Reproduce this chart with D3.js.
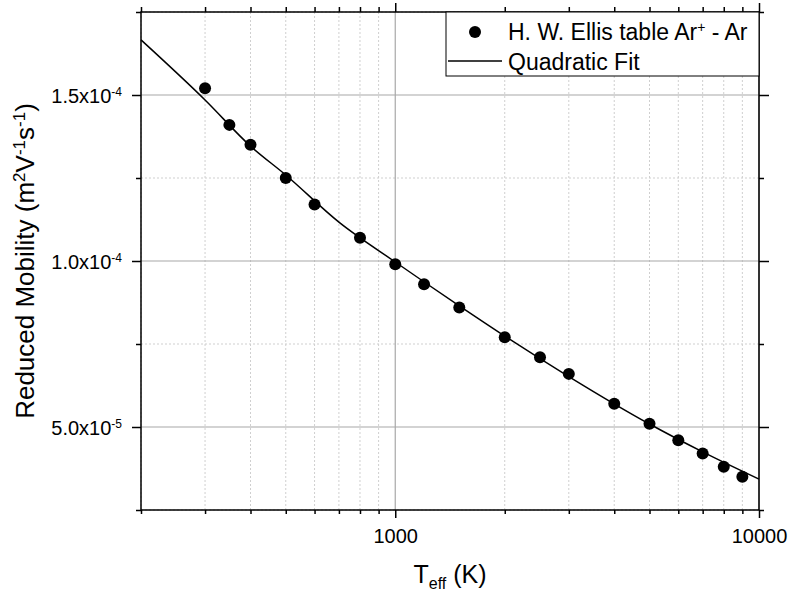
<!DOCTYPE html>
<html>
<head>
<meta charset="utf-8">
<script src="https://cdnjs.cloudflare.com/ajax/libs/d3/7.8.5/d3.min.js"></script>
<style>
    body { margin: 0; background: #fff; }
    svg { display: block; font-family: "Liberation Sans", Arial, sans-serif; }
</style>
</head>
<body>
<div id="chart"></div>
<script>
// H. W. Ellis table, Ar+ in Ar
var temperatures = [300, 350, 400, 500, 600, 800, 1000, 1200, 1500, 2000, 2500, 3000, 4000, 5000, 6000, 7000, 8000, 9000];
var mobilities = [1.52e-4, 1.41e-4, 1.35e-4, 1.25e-4, 1.17e-4, 1.07e-4, 9.9e-5, 9.3e-5, 8.6e-5, 7.7e-5, 7.1e-5, 6.6e-5, 5.7e-5, 5.1e-5, 4.6e-5, 4.2e-5, 3.8e-5, 3.5e-5];

// quadratic fit curve
var fitTemperatures = [200, 300, 400, 500, 700, 1000, 1500, 2000, 3000, 5000, 7000, 10000];
var fitMobilities = [1.666e-4, 1.485e-4, 1.346e-4, 1.259e-4, 1.117e-4, 9.97e-5, 8.65e-5, 7.74e-5, 6.52e-5, 5.09e-5, 4.25e-5, 3.43e-5];

var xMajorTicks = [1000, 10000];
var xMinorTicks = [200, 300, 400, 500, 600, 700, 800, 900, 2000, 3000, 4000, 5000, 6000, 7000, 8000, 9000];
var yMajorTicks = [5e-5, 1e-4, 1.5e-4];
var yMinorTicks = [2.5e-5, 7.5e-5, 1.25e-4, 1.75e-4];
var yTickLabels = [['5.0', '-5'], ['1.0', '-4'], ['1.5', '-4']];

var seriesLabels = ['H. W. Ellis table Ar', 'Quadratic Fit'];

var width = 791, height = 596;
var margin = {top: 12, right: 32, bottom: 86, left: 141};
var innerWidth = width - margin.left - margin.right;
var innerHeight = height - margin.top - margin.bottom;

var svg = d3.select('#chart').append('svg')
    .attr('width', width)
    .attr('height', height);
var g = svg.append('g')
    .attr('transform', 'translate(' + margin.left + ',' + margin.top + ')');

var x = d3.scaleLog().domain([200, 10000]).range([0, innerWidth]);
var y = d3.scaleLinear().domain([2.5e-5, 1.75e-4]).range([innerHeight, 0]);

// grid
function gridLines(values, isX, cls) {
    var sel = g.append('g').attr('class', cls).selectAll('line').data(values).enter().append('line');
    if (isX) {
        sel.attr('x1', function(d) { return x(d); }).attr('x2', function(d) { return x(d); })
            .attr('y1', 0).attr('y2', innerHeight);
    } else {
        sel.attr('y1', function(d) { return y(d); }).attr('y2', function(d) { return y(d); })
            .attr('x1', 0).attr('x2', innerWidth);
    }
    return sel;
}
gridLines(xMinorTicks, true, 'grid-minor').attr('stroke', '#cfcfcf').attr('stroke-dasharray', '2,2');
gridLines(yMinorTicks, false, 'grid-minor').attr('stroke', '#cfcfcf').attr('stroke-dasharray', '2,2');
gridLines(xMajorTicks, true, 'grid-major').attr('stroke', '#a8a8a8').attr('stroke-width', 1.2);
gridLines(yMajorTicks, false, 'grid-major').attr('stroke', '#a8a8a8').attr('stroke-width', 1.2);

// fit line
var fitLine = d3.line()
    .x(function(d) { return x(d[0]); })
    .y(function(d) { return y(d[1]); })
    .curve(d3.curveMonotoneX);
g.append('path')
    .datum(d3.zip(fitTemperatures, fitMobilities))
    .attr('d', fitLine)
    .attr('fill', 'none')
    .attr('stroke', '#000')
    .attr('stroke-width', 1.5);

// data points
g.append('g').selectAll('circle')
    .data(d3.zip(temperatures, mobilities))
    .enter().append('circle')
    .attr('cx', function(d) { return x(d[0]); })
    .attr('cy', function(d) { return y(d[1]); })
    .attr('r', 6)
    .attr('fill', '#000');

// axes
function addAxis(axis, transform, withLabels) {
    var a = g.append('g').attr('transform', transform || null).call(axis);
    a.attr('font-family', null);
    a.select('.domain').remove();
    a.selectAll('.tick line').attr('stroke', '#000').attr('stroke-width', 1.5);
    if (withLabels) {
        a.selectAll('.tick text').attr('fill', '#000').attr('font-size', 20);
    } else {
        a.selectAll('.tick text').remove();
    }
    return a;
}
var bottomT = 'translate(0,' + innerHeight + ')';
var rightT = 'translate(' + innerWidth + ',0)';

addAxis(d3.axisBottom(x).tickValues(xMinorTicks).tickSize(4), bottomT);
addAxis(d3.axisBottom(x).tickValues(xMajorTicks).tickSize(8).tickPadding(11).tickFormat(d3.format('d')), bottomT, true);
addAxis(d3.axisTop(x).tickValues(xMinorTicks).tickSize(5));
addAxis(d3.axisTop(x).tickValues(xMajorTicks).tickSize(9));

addAxis(d3.axisLeft(y).tickValues(yMinorTicks).tickSize(5));
var yLeft = addAxis(d3.axisLeft(y).tickValues(yMajorTicks).tickSize(9).tickPadding(10).tickFormat(''), null, true);
addAxis(d3.axisRight(y).tickValues(yMinorTicks).tickSize(5), rightT);
addAxis(d3.axisRight(y).tickValues(yMajorTicks).tickSize(10), rightT);

yLeft.selectAll('.tick text').each(function(d, i) {
    var t = d3.select(this).attr('dy', '0.37em');
    t.append('tspan').text(yTickLabels[i][0] + 'x10');
    t.append('tspan').attr('dy', -6.5).attr('font-size', 12).text(yTickLabels[i][1]);
});

// frame
g.append('rect')
    .attr('width', innerWidth)
    .attr('height', innerHeight)
    .attr('fill', 'none')
    .attr('stroke', '#000')
    .attr('stroke-width', 1.5);

// axis titles
var xTitle = svg.append('text')
    .attr('x', margin.left + innerWidth / 2)
    .attr('y', 583)
    .attr('text-anchor', 'middle')
    .attr('font-size', 25);
xTitle.append('tspan').text('T');
xTitle.append('tspan').attr('dy', 6).attr('font-size', 16).text('eff');
xTitle.append('tspan').attr('dy', -6).text(' (K)');

var yTitle = svg.append('text')
    .attr('transform', 'translate(34,' + (margin.top + innerHeight / 2) + ') rotate(-90)')
    .attr('text-anchor', 'middle')
    .attr('font-size', 26);
yTitle.append('tspan').text('Reduced Mobility (m');
yTitle.append('tspan').attr('dy', -9).attr('font-size', 17).text('2');
yTitle.append('tspan').attr('dy', 9).text('V');
yTitle.append('tspan').attr('dy', -9).attr('font-size', 17).text('-1');
yTitle.append('tspan').attr('dy', 9).text('s');
yTitle.append('tspan').attr('dy', -9).attr('font-size', 17).text('-1');
yTitle.append('tspan').attr('dy', 9).text(')');

// legend
var legend = svg.append('g').attr('transform', 'translate(446,12)');
legend.append('rect')
    .attr('width', 759 - 446)
    .attr('height', 64)
    .attr('fill', '#fff')
    .attr('stroke', '#000')
    .attr('stroke-width', 1);
legend.append('circle').attr('cx', 29).attr('cy', 20).attr('r', 6).attr('fill', '#000');
legend.append('line')
    .attr('x1', 2).attr('x2', 56).attr('y1', 49).attr('y2', 49)
    .attr('stroke', '#000').attr('stroke-width', 1.5);
var l1 = legend.append('text').attr('x', 62).attr('y', 28).attr('font-size', 23);
l1.append('tspan').text(seriesLabels[0]);
l1.append('tspan').attr('dy', -8).attr('font-size', 14).text('+');
l1.append('tspan').attr('dy', 8).text(' - Ar');
legend.append('text').attr('x', 62).attr('y', 58).attr('font-size', 23).text(seriesLabels[1]);
</script>
</body>
</html>
